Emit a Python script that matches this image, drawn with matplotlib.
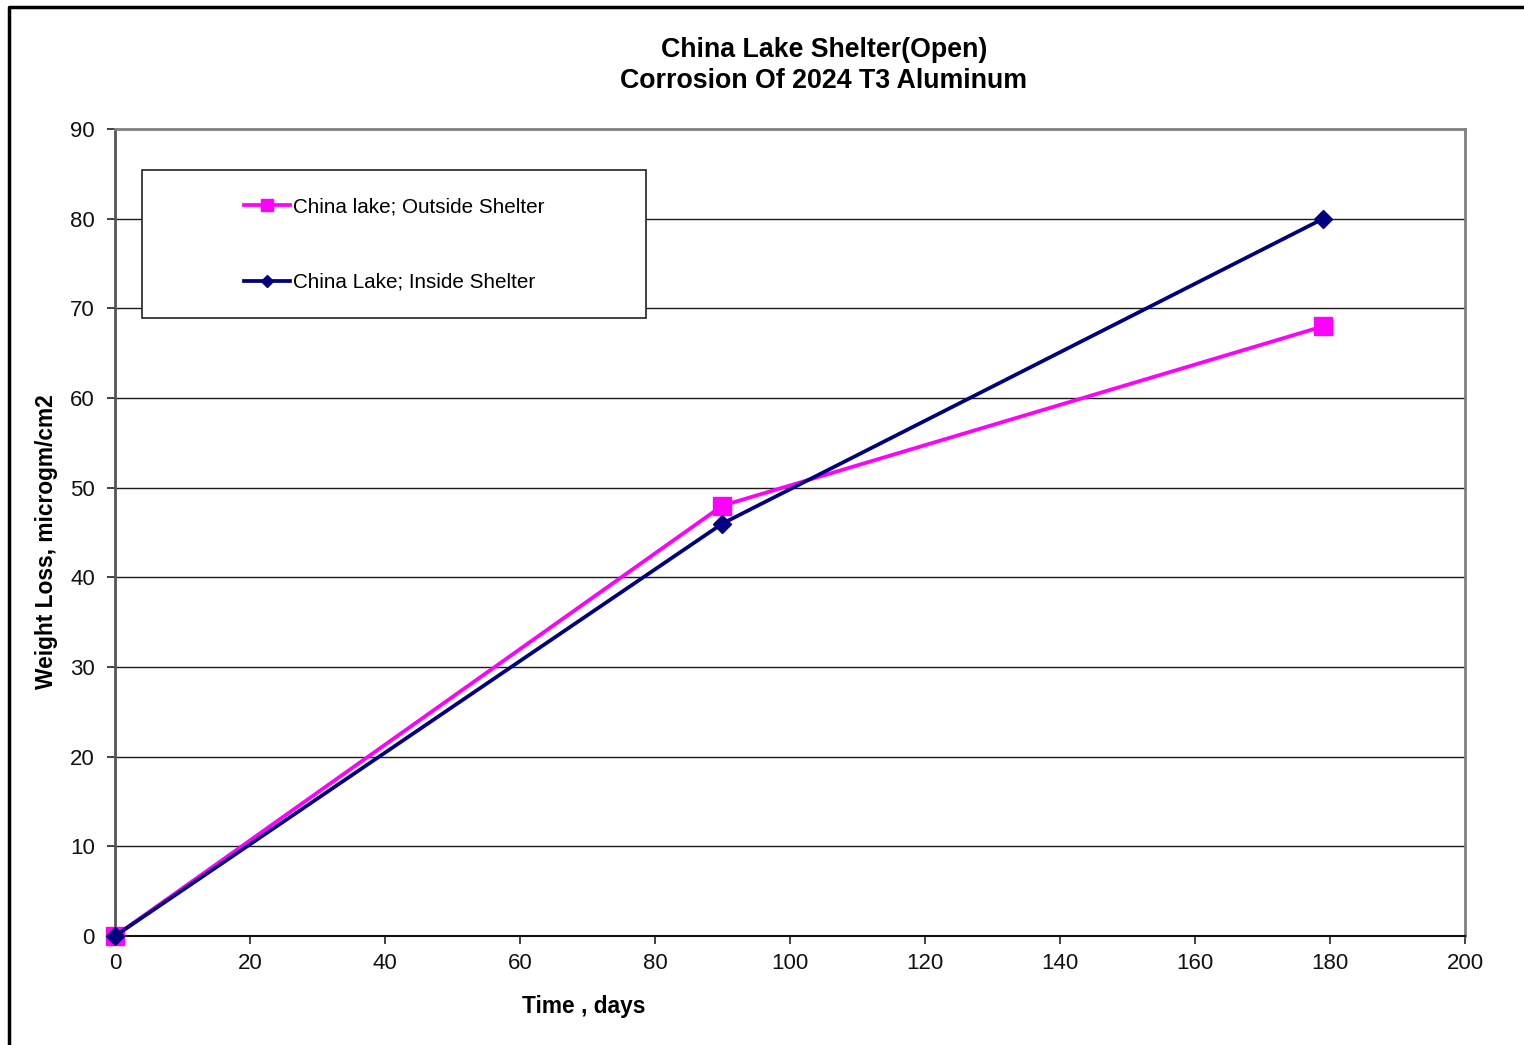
import matplotlib
matplotlib.use("Agg")
import matplotlib.pyplot as plt
from matplotlib.lines import Line2D
from matplotlib.patches import Rectangle

# Exposure time (days) and weight loss (microgram/cm2)
days = [0, 90, 179]
outside_loss = [0, 48, 68]
inside_loss = [0, 46, 80]

series_labels = ["China lake; Outside Shelter", "China Lake; Inside Shelter"]
title_lines = ["China Lake Shelter(Open)", "Corrosion Of 2024 T3 Aluminum"]
x_ticks = list(range(0, 201, 20))
y_ticks = list(range(0, 91, 10))

plt.rcParams["font.family"] = ["Liberation Sans", "DejaVu Sans"]

W, H = 1524, 1045
fig = plt.figure(figsize=(W / 100, H / 100), dpi=100)
ax = fig.add_axes([115 / W, 1 - 936 / H, (1465 - 115) / W, (936 - 129) / H])

ax.set_xlim(0, 200)
ax.set_ylim(0, 90)
ax.set_xticks(x_ticks)
ax.set_yticks(y_ticks)

# horizontal gridlines
for y in y_ticks[1:-1]:
    ax.axhline(y, color="#1a1a1a", lw=1.0, zorder=1)

ax.plot(days, outside_loss, color="#FF00FF", lw=2.7, marker="s", ms=12.5,
        mec="#FF00FF", mfc="#FF00FF", zorder=3, clip_on=False)
ax.plot(days, inside_loss, color="#000080", lw=2.7, marker="D", ms=9,
        mec="#000080", mfc="#000080", zorder=4, clip_on=False)

for side in ("top", "right"):
    ax.spines[side].set_color("#808080")
    ax.spines[side].set_linewidth(2.0)
ax.spines["left"].set_color("#555555")
ax.spines["left"].set_linewidth(2.0)
ax.spines["bottom"].set_color("#111111")
ax.spines["bottom"].set_linewidth(1.5)

ax.tick_params(axis="both", direction="out", length=6, width=1.2,
               color="#222222", labelsize=16, labelcolor="#111111")
ax.tick_params(axis="y", pad=8.5)
ax.tick_params(axis="x", pad=6.5)

# title and axis labels
fig.text(824 / W, 1 - 50 / H, title_lines[0], ha="center", va="center",
         fontsize=19.3, fontweight="bold")
fig.text(824 / W, 1 - 81 / H, title_lines[1], ha="center", va="center",
         fontsize=19.3, fontweight="bold")
fig.text(584 / W, 1 - 1007 / H, "Time , days", ha="center", va="center",
         fontsize=16.4, fontweight="bold")
fig.text(47 / W, 1 - 542 / H, "Weight Loss, microgm/cm2", ha="center",
         va="center", rotation=90, fontsize=16.4, fontweight="bold")

# legend frame and entries
fig.patches.append(Rectangle((142 / W, 1 - 318 / H), (646 - 142) / W,
                             (318 - 170) / H, transform=fig.transFigure,
                             fill=True, facecolor="white", edgecolor="#222222",
                             lw=1.2, zorder=5))
handles = [
    Line2D([], [], color="#FF00FF", lw=2.7, marker="s", ms=8, mfc="#FF00FF", mec="#FF00FF"),
    Line2D([], [], color="#000080", lw=2.7, marker="D", ms=6.5, mfc="#000080", mec="#000080"),
]
leg = fig.legend(handles, series_labels, loc="center",
                 bbox_to_anchor=(394 / W, 1 - 244.5 / H), frameon=False,
                 fontsize=14.9, handlelength=2.22, handletextpad=0.15,
                 labelspacing=2.75, borderpad=0)
leg.set_zorder(6)

# outer figure border
fig.add_artist(Line2D([9 / W, 9 / W, 1523 / W], [0, 1 - 7 / H, 1 - 7 / H],
                      transform=fig.transFigure, color="black", lw=2.5))

fig.savefig("out.png", dpi=100)
